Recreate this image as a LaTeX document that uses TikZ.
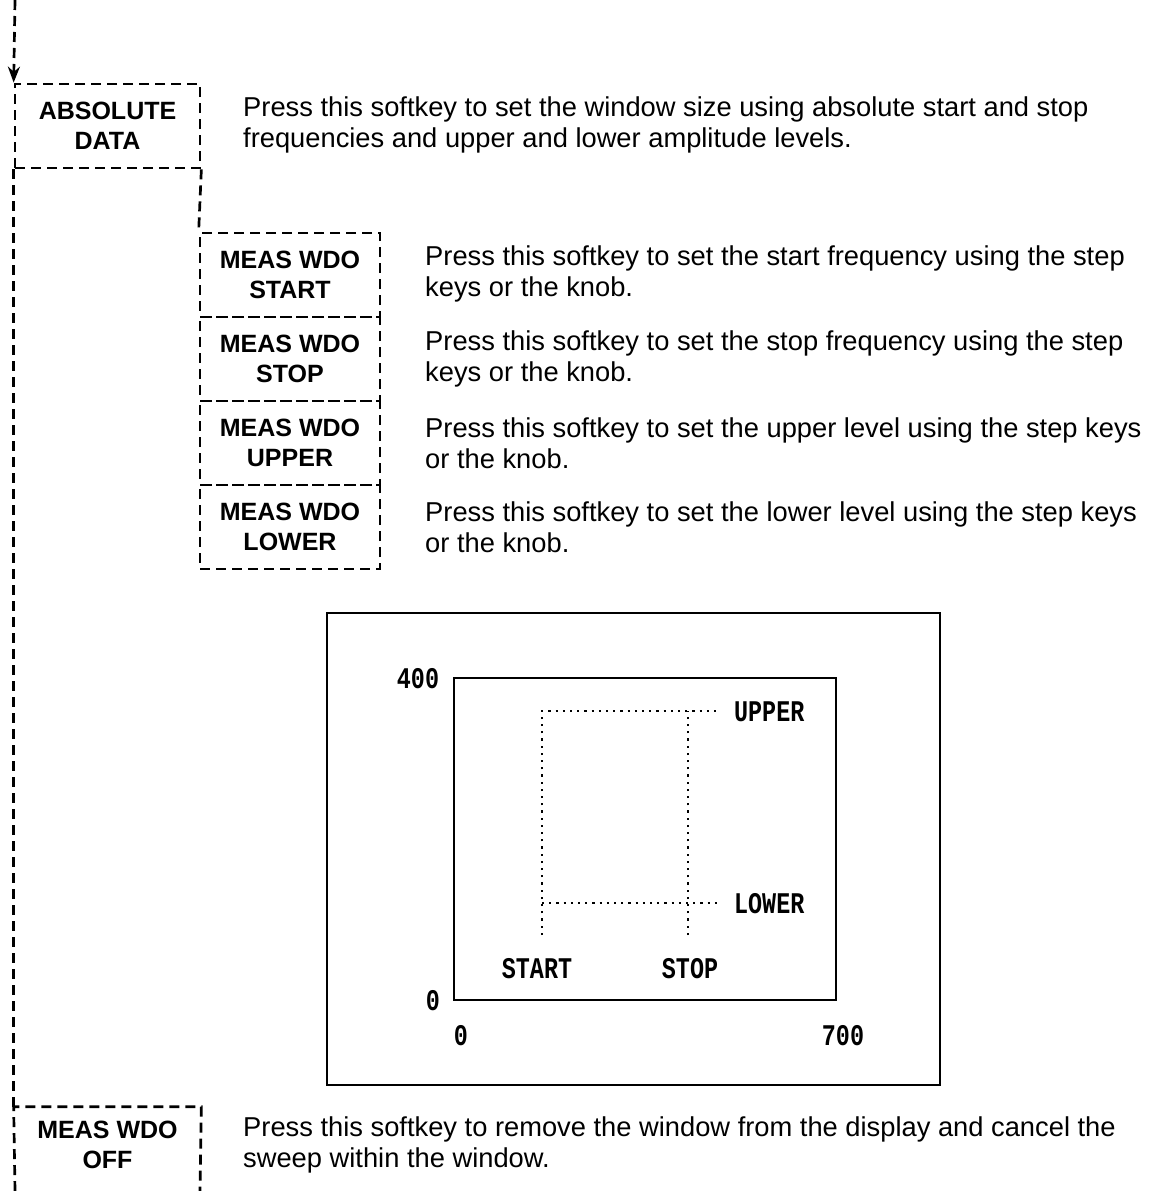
\documentclass[tikz,border=0pt]{standalone}
\usepackage{fontspec}
\setmainfont{Liberation Sans}
\newfontfamily\plotfont{Liberation Mono}
\usetikzlibrary{arrows.meta}
\tikzset{
  keyline/.style={line width=2.7pt, dash pattern=on 10pt off 6pt},
  keybox/.style={keyline, draw, rectangle, inner sep=0pt, align=center,
    font=\bfseries\fontsize{25}{30}\selectfont},
  desc/.style={anchor=west, align=left, inner sep=0pt,
    font=\fontsize{27.3}{31}\selectfont},
  frame/.style={line width=2.6pt},
  dotline/.style={line width=2.4pt, dash pattern=on 2.2pt off 5pt},
  plottext/.style={inner sep=0pt, font=\bfseries\plotfont\fontsize{30}{30}\selectfont, xscale=0.78, transform shape}
}
\begin{document}
\begin{tikzpicture}[x=1pt,y=-1pt]
\useasboundingbox (0,0) rectangle (1152,1191);
% softkey boxes
\node[keybox, minimum width=185pt, minimum height=84pt] (abs) at (107.5,126) {ABSOLUTE\\DATA};
\node[keybox, minimum width=180pt, minimum height=84pt] (start) at (290,275) {MEAS WDO\\START};
\node[keybox, minimum width=180pt, minimum height=84pt] (stop) at (290,359) {MEAS WDO\\STOP};
\node[keybox, minimum width=180pt, minimum height=84pt] (upper) at (290,443) {MEAS WDO\\UPPER};
\node[keybox, minimum width=180pt, minimum height=84pt] (lower) at (290,527) {MEAS WDO\\LOWER};
\node[keybox, draw=none, minimum width=185pt, minimum height=74pt] (off) at (107.5,1145) {MEAS WDO\\OFF};
\coordinate (topin) at (15,0);
\coordinate (offbl) at (15,1191);
\coordinate (offbr) at (200,1191);
% connectors
\draw[keyline, -{Stealth[length=16pt, width=12pt]}] (topin) -- (abs.north west);
\draw[keyline] (abs.south west) -- (off.north west);
\draw[keyline] (abs.south east) -- (start.north west);
\draw[keyline] (offbl) -- (off.north west) -- (off.north east) -- (offbr);
% descriptions
\node[desc] (dabs) at (243,125) {Press this softkey to set the window size using absolute start and stop\\frequencies and upper and lower amplitude levels.};
\node[desc] (dstart) at (425,274) {Press this softkey to set the start frequency using the step\\keys or the knob.};
\node[desc] (dstop) at (425,359) {Press this softkey to set the stop frequency using the step\\keys or the knob.};
\node[desc] (dupper) at (425,443) {Press this softkey to set the upper level using the step keys\\or the knob.};
\node[desc] (dlower) at (425,527) {Press this softkey to set the lower level using the step keys\\or the knob.};
\node[desc] (doff) at (243,1145) {Press this softkey to remove the window from the display and cancel the\\sweep within the window.};
% plot
\draw[frame] (327,613) rectangle (940,1085);
\draw[frame] (454,678) rectangle (836,1000);
\draw[dotline] (542,935) -- (542,711) -- (720,711);
\draw[dotline] (688,935) -- (688,711);
\draw[dotline] (542,903) -- (720,903);
\node[plottext, anchor=west] (lupper) at (734,712) {UPPER};
\node[plottext, anchor=west] (llower) at (734,904) {LOWER};
\node[plottext] (lstart) at (537,969) {START};
\node[plottext] (lstop) at (690,969) {STOP};
\node[plottext] (y400) at (418,679) {400};
\node[plottext] (y0) at (433,1001) {0};
\node[plottext] (x0) at (461,1036) {0};
\node[plottext] (x700) at (843,1036) {700};
\end{tikzpicture}
\end{document}
